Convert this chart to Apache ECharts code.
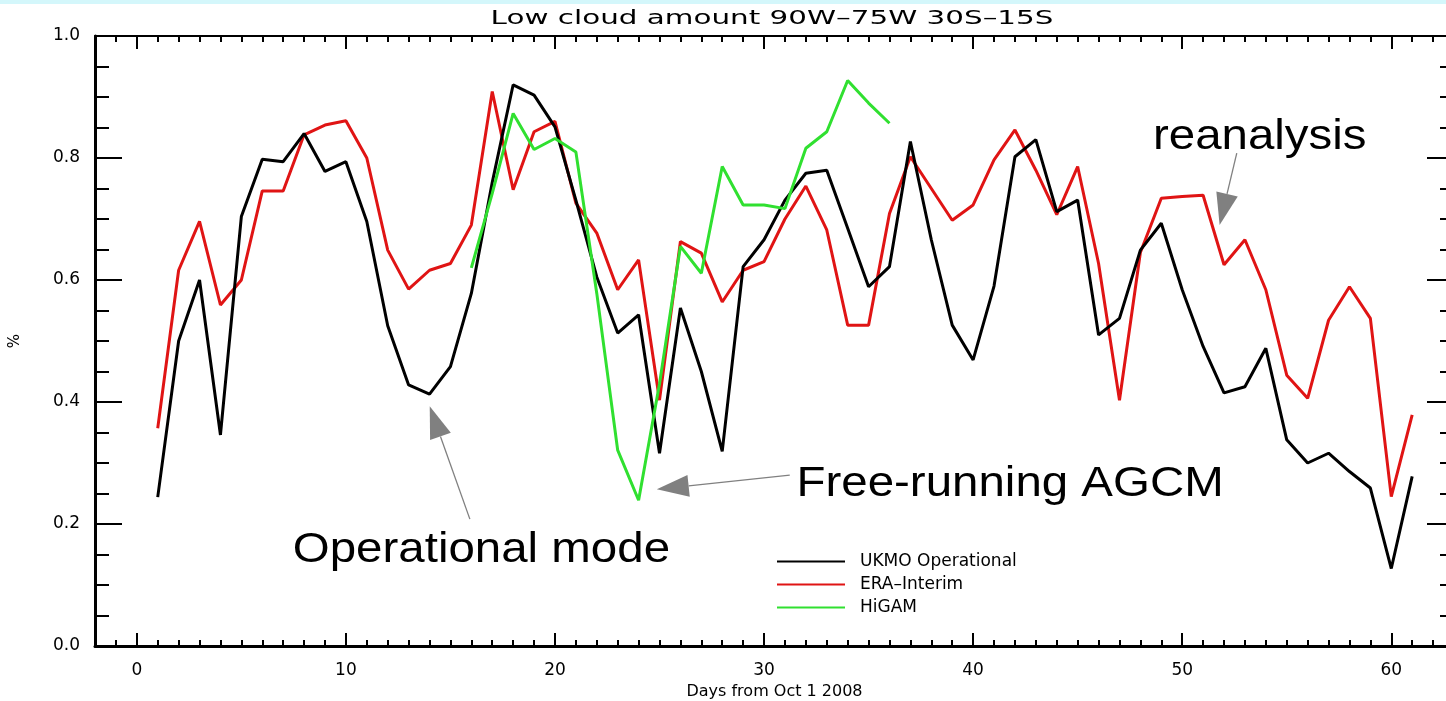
<!DOCTYPE html>
<html>
<head>
<meta charset="utf-8">
<script src="https://cdn.jsdelivr.net/npm/echarts@6.0.0/dist/echarts.min.js"></script>
<style>
  html, body { margin: 0; padding: 0; background: #ffffff; }
  #chart { width: 1446px; height: 701px; }
</style>
</head>
<body>
<div id="chart"></div>
<script>
// ---- data ----
const days = [1,2,3,4,5,6,7,8,9,10,11,12,13,14,15,16,17,18,19,20,21,22,23,24,25,26,27,28,29,30,
              31,32,33,34,35,36,37,38,39,40,41,42,43,44,45,46,47,48,49,50,51,52,53,54,55,56,57,58,59,60,61];
const ukmoOperational = [0.244,0.500,0.600,0.346,0.704,0.798,0.794,0.840,0.778,0.794,
                         0.696,0.525,0.428,0.413,0.458,0.578,0.760,0.920,0.903,0.851,
                         0.731,0.605,0.513,0.543,0.316,0.554,0.450,0.319,0.622,0.666,
                         0.731,0.775,0.780,0.685,0.589,0.622,0.827,0.666,0.526,0.469,
                         0.590,0.802,0.830,0.712,0.731,0.510,0.537,0.649,0.693,0.584,
                         0.491,0.415,0.425,0.488,0.338,0.300,0.316,0.286,0.259,0.127,0.278];
const eraInterim = [0.357,0.616,0.696,0.559,0.600,0.746,0.746,0.838,0.854,0.861,
                    0.800,0.649,0.585,0.616,0.627,0.690,0.909,0.748,0.843,0.860,
                    0.726,0.677,0.584,0.633,0.403,0.663,0.644,0.564,0.616,0.630,
                    0.700,0.754,0.682,0.526,0.526,0.709,0.802,0.750,0.698,0.723,
                    0.797,0.846,0.780,0.707,0.786,0.627,0.403,0.645,0.734,0.737,
                    0.739,0.625,0.666,0.584,0.444,0.406,0.534,0.589,0.537,0.245,0.379];
const higamDays = [16,17,18,19,20,21,22,23,24,25,26,27,28,29,30,31,32,33,34,35,36];
const higam = [0.620,0.742,0.873,0.814,0.832,0.810,0.578,0.321,0.239,0.430,0.655,
               0.611,0.786,0.723,0.723,0.717,0.816,0.843,0.927,0.890,0.857];

const seriesNames = ['UKMO Operational', 'ERA\u2013Interim', 'HiGAM'];
const titleText = 'Low cloud amount 90W\u201375W 30S\u201315S';
const xAxisTitle = 'Days from Oct 1 2008';
const yAxisTitle = '%';
const xMajorTicks = [0, 10, 20, 30, 40, 50, 60];
const yTickLabels = ['0.0', '0.2', '0.4', '0.6', '0.8', '1.0'];

// annotation texts and arrows, in data coordinates [day, value]
const annotationTexts = [
  { text: 'reanalysis',        at: [48.60, 0.833] },
  { text: 'Free-running AGCM', at: [31.55, 0.265] },
  { text: 'Operational mode',  at: [7.46, 0.157] }
];
const annotationArrows = [
  { from: [15.93, 0.208], to: [14.01, 0.393] },
  { from: [31.23, 0.280], to: [24.87, 0.257] },
  { from: [52.61, 0.808], to: [51.79, 0.690] }
];

// ---- chart ----
const xMinorTicks = [];
for (let d = -1; d <= 62; d++) xMinorTicks.push(d);

const FONT = 'DejaVu Sans';
const chart = echarts.init(document.getElementById('chart'), null, { renderer: 'canvas' });

function pairs(xs, ys) { return xs.map((x, i) => [x, ys[i]]); }

const baseX = { type: 'value', min: -2, max: 63, gridIndex: 0, splitLine: { show: false } };
const option = {
  animation: false,
  backgroundColor: '#ffffff',
  grid: { left: 95, top: 36, right: -8, bottom: 55, containLabel: false, outerBoundsMode: 'none' },
  xAxis: [
    Object.assign({}, baseX, {
      position: 'bottom',
      axisLine: { show: true, onZero: false, lineStyle: { color: '#000', width: 3 } },
      axisTick: { show: true, inside: true, length: 13, customValues: xMajorTicks, lineStyle: { color: '#000', width: 2 } },
      axisLabel: { show: true, customValues: xMajorTicks, margin: 16, color: '#000', fontFamily: FONT, fontSize: 17 },
      name: xAxisTitle, nameLocation: 'middle', nameGap: 38,
      nameTextStyle: { color: '#000', fontFamily: FONT, fontSize: 16 }
    }),
    Object.assign({}, baseX, {
      position: 'bottom',
      axisLine: { show: false, onZero: false },
      axisTick: { show: true, inside: true, length: 6, customValues: xMinorTicks, lineStyle: { color: '#000', width: 2 } },
      axisLabel: { show: false }
    }),
    Object.assign({}, baseX, {
      position: 'top',
      axisLine: { show: true, onZero: false, lineStyle: { color: '#000', width: 2 } },
      axisTick: { show: true, inside: true, length: 13, customValues: xMajorTicks, lineStyle: { color: '#000', width: 2 } },
      axisLabel: { show: false }
    }),
    Object.assign({}, baseX, {
      position: 'top',
      axisLine: { show: false, onZero: false },
      axisTick: { show: true, inside: true, length: 6, customValues: xMinorTicks, lineStyle: { color: '#000', width: 2 } },
      axisLabel: { show: false }
    })
  ],
  yAxis: [
    {
      type: 'value', min: 0, max: 1, interval: 0.2, position: 'left',
      splitLine: { show: false },
      axisLine: { show: true, onZero: false, lineStyle: { color: '#000', width: 3 } },
      axisTick: { show: true, inside: true, length: 27, lineStyle: { color: '#000', width: 2 } },
      minorTick: { show: true, splitNumber: 4, length: 14, lineStyle: { color: '#000', width: 2 } },
      axisLabel: { margin: 15, color: '#000', fontFamily: FONT, fontSize: 17,
                   formatter: (v) => yTickLabels[Math.round(v * 5)] },
      name: yAxisTitle, nameLocation: 'middle', nameGap: 72, nameRotate: 90,
      nameTextStyle: { color: '#000', fontFamily: FONT, fontSize: 15 }
    },
    {
      type: 'value', min: 0, max: 1, interval: 0.2, position: 'right',
      splitLine: { show: false },
      axisLine: { show: true, onZero: false, lineStyle: { color: '#000', width: 2 } },
      axisTick: { show: true, inside: true, length: 27, lineStyle: { color: '#000', width: 2 } },
      minorTick: { show: true, splitNumber: 4, length: 14, lineStyle: { color: '#000', width: 2 } },
      axisLabel: { show: false }
    }
  ],
  legend: {
    orient: 'vertical', left: 772, top: 548,
    itemWidth: 68, itemHeight: 2, itemGap: 6, icon: 'rect',
    selectedMode: false,
    data: seriesNames,
    textStyle: { color: '#000', fontFamily: FONT, fontSize: 17, lineHeight: 15, padding: [0, 0, 0, 10] }
  },
  series: [
    { name: seriesNames[1], type: 'line', data: pairs(days, eraInterim), showSymbol: false, z: 2,
      color: '#e01414', lineStyle: { color: '#e01414', width: 3 } },
    { name: seriesNames[0], type: 'line', data: pairs(days, ukmoOperational), showSymbol: false, z: 3,
      color: '#000000', lineStyle: { color: '#000000', width: 3 } },
    { name: seriesNames[2], type: 'line', data: pairs(higamDays, higam), showSymbol: false, z: 4,
      color: '#30e030', lineStyle: { color: '#30e030', width: 3 } }
  ],
  graphic: [
    { type: 'rect', left: 0, top: 0, shape: { width: 1446, height: 4 }, style: { fill: '#d4f7fb' }, silent: true },
    { type: 'text', x: 772, y: 19, scaleX: 1.47, silent: true,
      style: { text: titleText, fill: '#000', font: '20px "DejaVu Sans"', textAlign: 'center', textVerticalAlign: 'middle' } }
  ]
};
chart.setOption(option);

// annotations positioned through the chart's own coordinate system
const finder = { xAxisIndex: 0, yAxisIndex: 0 };
const extra = [];
annotationTexts.forEach((a) => {
  const p = chart.convertToPixel(finder, a.at);
  extra.push({ type: 'text', x: p[0], y: p[1], scaleX: 1.13, silent: true, z: 10,
    style: { text: a.text, fill: '#000', font: '42px "Liberation Sans"', textAlign: 'left', textVerticalAlign: 'middle' } });
});
annotationArrows.forEach((a) => {
  const s = chart.convertToPixel(finder, a.from);
  const t = chart.convertToPixel(finder, a.to);
  const dx = t[0] - s[0], dy = t[1] - s[1];
  const len = Math.sqrt(dx * dx + dy * dy);
  const ux = dx / len, uy = dy / len;
  const L = 32, W = 22;
  const bx = t[0] - ux * L, by = t[1] - uy * L;
  const nx = -uy, ny = ux;
  extra.push({ type: 'line', silent: true, z: 10,
    shape: { x1: s[0], y1: s[1], x2: bx, y2: by },
    style: { stroke: '#808080', lineWidth: 1.3 } });
  extra.push({ type: 'polygon', silent: true, z: 10,
    shape: { points: [[t[0], t[1]], [bx + nx * W / 2, by + ny * W / 2], [bx - nx * W / 2, by - ny * W / 2]] },
    style: { fill: '#808080' } });
});
chart.setOption({ graphic: option.graphic.concat(extra) });
</script>
</body>
</html>
